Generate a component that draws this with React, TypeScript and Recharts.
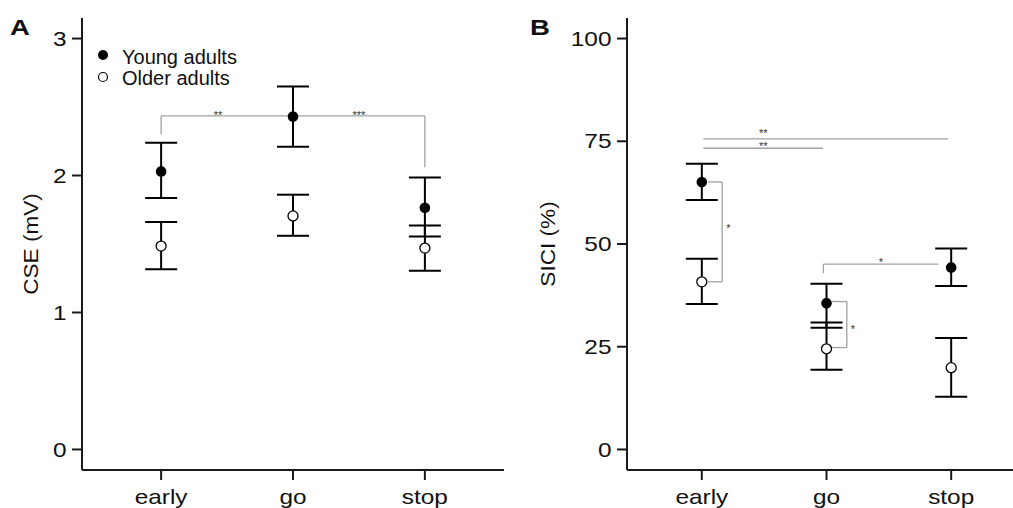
import React from 'react';
import { ScatterChart, Scatter, XAxis, YAxis, ErrorBar, ReferenceLine, Legend } from 'recharts';

// ---------- data ----------
const categories = ['early', 'go', 'stop'];

const cseYoungMean = [2.03, 2.43, 1.765];
const cseYoungUpper = [2.24, 2.65, 1.985];
const cseYoungLower = [1.835, 2.21, 1.555];
const cseOlderMean = [1.485, 1.705, 1.47];
const cseOlderUpper = [1.66, 1.86, 1.635];
const cseOlderLower = [1.315, 1.56, 1.305];

const siciYoungMean = [65.1, 35.6, 44.3];
const siciYoungUpper = [69.5, 40.3, 48.9];
const siciYoungLower = [60.7, 29.6, 39.8];
const siciOlderMean = [40.8, 24.5, 19.9];
const siciOlderUpper = [46.4, 30.9, 27.1];
const siciOlderLower = [35.4, 19.4, 12.8];

const cseTicks = [0, 1, 2, 3];
const siciTicks = [0, 25, 50, 75, 100];
const xTicks = [1, 2, 3];

const seriesNames = ['Young adults', 'Older adults'];

// significance annotations (data units)
type Seg = { x1: number; y1: number; x2: number; y2: number; label?: string; position?: string; dx?: number; dy?: number };
const cseSig: Seg[] = [
  { x1: 1, y1: 2.3, x2: 1, y2: 2.435 },
  { x1: 1, y1: 2.435, x2: 2, y2: 2.435, label: '**', position: 'center', dx: -9, dy: -1 },
  { x1: 2, y1: 2.435, x2: 3, y2: 2.435, label: '***', position: 'center', dy: -1 },
  { x1: 3, y1: 2.435, x2: 3, y2: 2.06 },
];
const siciSig: Seg[] = [
  { x1: 1.013, y1: 75.6, x2: 1.973, y2: 75.6, label: '**', position: 'center', dy: -5.6 },
  { x1: 1.973, y1: 75.6, x2: 2.975, y2: 75.6 },
  { x1: 1.013, y1: 73.3, x2: 1.973, y2: 73.3, label: '**', position: 'center', dy: -2.6 },
  { x1: 1.05, y1: 65.1, x2: 1.163, y2: 65.1 },
  { x1: 1.163, y1: 65.1, x2: 1.163, y2: 40.8, label: '*', position: 'right', dy: -3.3 },
  { x1: 1.163, y1: 40.8, x2: 1.05, y2: 40.8 },
  { x1: 2.043, y1: 36.0, x2: 2.163, y2: 36.0 },
  { x1: 2.163, y1: 36.0, x2: 2.163, y2: 24.8, label: '*', position: 'right', dy: 4.4 },
  { x1: 2.163, y1: 24.8, x2: 2.043, y2: 24.8 },
  { x1: 1.975, y1: 42.9, x2: 1.975, y2: 45.1 },
  { x1: 1.975, y1: 45.1, x2: 2.897, y2: 45.1, label: '*', position: 'center', dy: -2.2 },
];

const buildRows = (ym: number[], yu: number[], yl: number[], om: number[], ou: number[], ol: number[]) =>
  categories.map((c, i) => ({
    x: i + 1,
    category: c,
    young: ym[i],
    youngErr: [ym[i] - yl[i], yu[i] - ym[i]],
    older: om[i],
    olderErr: [om[i] - ol[i], ou[i] - om[i]],
  }));

const cseRows = buildRows(cseYoungMean, cseYoungUpper, cseYoungLower, cseOlderMean, cseOlderUpper, cseOlderLower);
const siciRows = buildRows(siciYoungMean, siciYoungUpper, siciYoungLower, siciOlderMean, siciOlderUpper, siciOlderLower);

// ---------- styling ----------
const FONT = "'Liberation Sans', Arial, sans-serif";
const INK = '#111';
const AXIS = '#1a1a1a';
const GRAY = '#a0a0a0';

const XTick = (props: any) => {
  const { x, y, payload } = props;
  return (
    <text transform={`translate(${x},${y}) scale(1.22,1)`} textAnchor="middle" dy="0.71em" fontSize={20} fontFamily={FONT} fill={INK}>
      {categories[payload.value - 1]}
    </text>
  );
};

const YTick = (props: any) => {
  const { x, y, payload } = props;
  return (
    <text transform={`translate(${x},${y}) scale(1.22,1)`} textAnchor="end" dy="0.355em" fontSize={20} fontFamily={FONT} fill={INK}>
      {payload.value}
    </text>
  );
};

const axisTitle = (text: string, bx: number) => (props: any) => {
  const vb = props.viewBox || { x: 0, y: 18, width: 0, height: 452 };
  const cx = vb.x + bx;
  const cy = vb.y + vb.height / 2;
  return (
    <text transform={`translate(${cx},${cy}) rotate(-90) scale(1.13,1)`} textAnchor="middle" fontSize={20} fontFamily={FONT} fill={INK} stroke="none">
      {text}
    </text>
  );
};

const FilledDot = (p: any) => <circle cx={p.cx} cy={p.cy} r={5.3} fill="#000" />;
const OpenDot = (p: any) => <circle cx={p.cx} cy={p.cy} r={5} fill="#fff" stroke="#000" strokeWidth={1.3} />;
const NoDot = () => <g />;

const renderLegend = (props: any) => {
  const items = (props.payload || [])
    .filter((e: any) => seriesNames.indexOf(e.value) >= 0)
    .sort((a: any, b: any) => seriesNames.indexOf(a.value) - seriesNames.indexOf(b.value));
  return (
    <svg width={170} height={50}>
      {items.map((e: any, i: number) => {
        const filled = e.value === seriesNames[0];
        return (
          <g key={e.value}>
            <circle cx={8} cy={15 + i * 22} r={filled ? 5 : 4.5} fill={filled ? '#000' : '#fff'} stroke="#000" strokeWidth={filled ? 0 : 1.2} />
            <text x={27} y={24 + i * 21} fontSize={20} fontFamily={FONT} fill={INK}>{e.value}</text>
          </g>
        );
      })}
    </svg>
  );
};

const sigLines = (segs: Seg[]) =>
  segs.map((s, i) => (
    <ReferenceLine
      key={`sig-${i}`}
      segment={[{ x: s.x1, y: s.y1 }, { x: s.x2, y: s.y2 }]}
      stroke={GRAY}
      strokeWidth={1.3}
      ifOverflow="visible"
      label={
        s.label
          ? { value: s.label, position: s.position as any, offset: 4, dx: s.dx || 0, dy: s.dy || 0, fontSize: 11, fill: '#333', fontFamily: FONT }
          : undefined
      }
    />
  ));

const Panel = (p: {
  rows: any[]; domain: [number, number]; ticks: number[]; yWidth: number; width: number; marginRight: number;
  title: string; titleX: number; letter: string; segs: Seg[]; legend?: boolean;
}) => (
  <ScatterChart width={p.width} height={508} margin={{ top: 18, right: p.marginRight, bottom: 0, left: 0 }}>
    <XAxis
      type="number" dataKey="x" domain={[0.4, 3.6]} ticks={xTicks} interval={0} allowDataOverflow
      height={38} tickSize={10} tickMargin={10}
      axisLine={{ stroke: AXIS, strokeWidth: 2 }} tickLine={{ stroke: AXIS, strokeWidth: 2 }} tick={<XTick />}
    />
    <YAxis
      type="number" domain={p.domain} ticks={p.ticks} interval={0} allowDataOverflow
      width={p.yWidth} tickSize={10} tickMargin={5.5}
      axisLine={{ stroke: AXIS, strokeWidth: 2 }} tickLine={{ stroke: AXIS, strokeWidth: 2 }} tick={<YTick />}
      label={axisTitle(p.title, p.titleX)}
    />
    {sigLines(p.segs)}
    <Scatter data={p.rows} dataKey="young" legendType="none" shape={<NoDot />} isAnimationActive={false}>
      <ErrorBar dataKey="youngErr" direction="y" width={16} stroke="#000" strokeWidth={2} isAnimationActive={false} />
    </Scatter>
    <Scatter data={p.rows} dataKey="older" legendType="none" shape={<NoDot />} isAnimationActive={false}>
      <ErrorBar dataKey="olderErr" direction="y" width={16} stroke="#000" strokeWidth={2} isAnimationActive={false} />
    </Scatter>
    <Scatter name={seriesNames[0]} data={p.rows} dataKey="young" fill="#000" shape={<FilledDot />} isAnimationActive={false} />
    <Scatter name={seriesNames[1]} data={p.rows} dataKey="older" fill="#fff" shape={<OpenDot />} isAnimationActive={false} />
    {p.legend ? (
      <Legend
        layout="vertical" align="center" verticalAlign="middle" content={renderLegend}
        wrapperStyle={{ left: 95, top: 40, width: 170, height: 50 }}
      />
    ) : null}
    <text transform="translate(10,35) scale(1.25,1)" fontSize={22} fontWeight="bold" fontFamily={FONT} fill={INK}>
      {p.letter}
    </text>
  </ScatterChart>
);

export default function App() {
  return (
    <div style={{ position: 'absolute', left: 0, top: 0, width: 1013, height: 508, overflow: 'hidden', background: '#fff' }}>
      <div style={{ position: 'absolute', left: 0, top: 0 }}>
        <Panel rows={cseRows} domain={[-0.15, 3.15]} ticks={cseTicks} yWidth={82} width={520} marginRight={16}
          title="CSE (mV)" titleX={38} letter="A" segs={cseSig} legend />
      </div>
      <div style={{ position: 'absolute', left: 520, top: 0 }}>
        <Panel rows={siciRows} domain={[-5, 105]} ticks={siciTicks} yWidth={107} width={506} marginRight={0}
          title="SICI (%)" titleX={34.5} letter="B" segs={siciSig} />
      </div>
    </div>
  );
}
